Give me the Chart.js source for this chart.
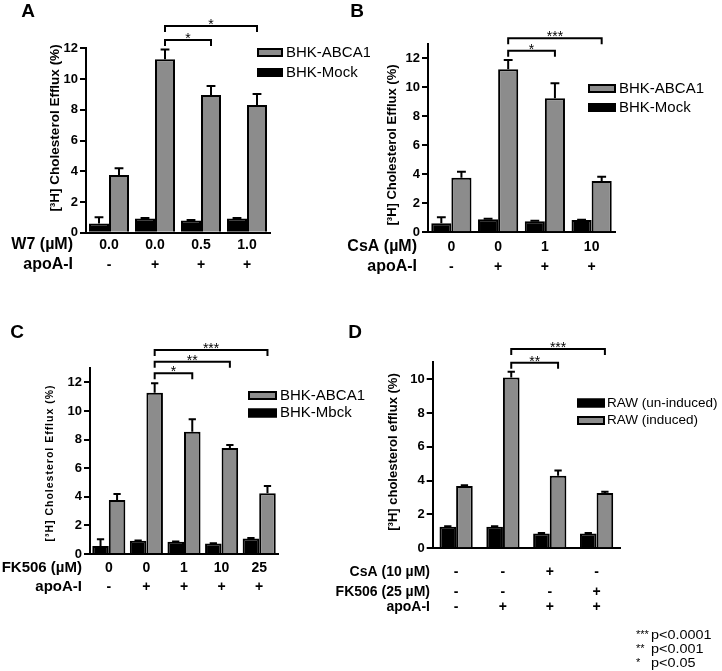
<!DOCTYPE html>
<html>
<head>
<meta charset="utf-8">
<script src="https://cdn.jsdelivr.net/npm/chart.js@4.4.1/dist/chart.umd.min.js"></script>
<style>
  body { margin: 0; background: #fff; }
  canvas { position: absolute; }
</style>
</head>
<body>
<canvas id="panelA"></canvas>
<canvas id="panelB"></canvas>
<canvas id="panelC"></canvas>
<canvas id="panelD"></canvas>
<script>
// ---- data ----
var yTicksA = [0, 2, 4, 6, 8, 10, 12];
var w7Dose = ['0.0', '0.0', '0.5', '1.0'];
var apoA = ['-', '+', '+', '+'];
var mockA = [0.6, 0.92, 0.8, 0.92];
var mockErrA = [0.4, 0.04, 0.02, 0.04];
var abcaA = [3.76, 11.28, 8.96, 8.31];
var abcaErrA = [0.43, 0.64, 0.59, 0.72];
var sigA = ['*', '*'];

var yTicksB = [0, 2, 4, 6, 8, 10, 12];
var csaDose = ['0', '0', '1', '10'];
var apoB = ['-', '+', '+', '+'];
var mockB = [0.62, 0.9, 0.76, 0.84];
var mockErrB = [0.41, 0.04, 0.03, 0.03];
var abcaB = [3.77, 11.24, 9.24, 3.54];
var abcaErrB = [0.41, 0.64, 1.04, 0.29];
var sigB = ['*', '***'];

var yTicksC = [0, 2, 4, 6, 8, 10, 12];
var fkDose = ['0', '0', '1', '10', '25'];
var apoC = ['-', '+', '+', '+', '+'];
var mockC = [0.56, 0.92, 0.86, 0.74, 1.08];
var mockErrC = [0.47, 0.03, 0.02, 0.02, 0.03];
var abcaC = [3.77, 11.27, 8.55, 7.41, 4.24];
var abcaErrC = [0.42, 0.66, 0.86, 0.21, 0.51];
var sigC = ['*', '**', '***'];

var yTicksD = [0, 2, 4, 6, 8, 10];
var csaD = ['-', '-', '+', '-'];
var fkD = ['-', '-', '-', '+'];
var apoD = ['-', '+', '+', '+'];
var rawUn = [1.27, 1.27, 0.88, 0.88];
var rawUnErr = [0.03, 0.03, 0.03, 0.03];
var rawInd = [3.69, 10.1, 4.3, 3.27];
var rawIndErr = [0.04, 0.35, 0.3, 0.08];
var sigD = ['**', '***'];

var pValues = [['***', 'p<0.0001'], ['**', 'p<0.001'], ['*', 'p<0.05']];

var FONT = '"Liberation Sans", Arial, Helvetica, sans-serif';
var GRAY = '#8c8c8c';
var Y_W = 40;

// layout of each panel, page coordinates
var panels = {
  panelA: {
    box: { x: 0, y: 0, w: 370, h: 330 }, area: { l: 86, r: 270, t: 48.3, b: 232.7 },
    letter: ['A', 28, 12],
    title: { text: '[\u00B3H] Cholesterol Efflux (%)', x: 55, y: 128, size: 13.5, spacing: 0 },
    rowHeads: ['W7 (\u00B5M)', 'apoA-I'], rows: [w7Dose, apoA], rowY: [245, 265], headRight: 73, headSize: 16,
    brackets: { from: 1, to: [2, 3], y: [40, 26], text: sigA },
    legend: { x: 257, w: 26, y: [52.5, 72.5], textX: 286, size: 15, order: [1, 0] }
  },
  panelB: {
    box: { x: 330, y: 0, w: 392, h: 330 }, area: { l: 428, r: 615, t: 43.8, b: 232.3 },
    letter: ['B', 357, 12],
    title: { text: '[\u00B3H] Cholesterol Efflux (%)', x: 392.5, y: 145, size: 13, spacing: 0 },
    rowHeads: ['CsA (\u00B5M)', 'apoA-I'], rows: [csaDose, apoB], rowY: [247, 267], headRight: 417, headSize: 16,
    brackets: { from: 1, to: [2, 3], y: [50.7, 38.3], text: sigB },
    legend: { x: 588, w: 28, y: [88.5, 107.5], textX: 619, size: 15, order: [1, 0] }
  },
  panelC: {
    box: { x: 0, y: 310, w: 370, h: 361 }, area: { l: 90, r: 278, t: 368, b: 554 },
    letter: ['C', 17, 333],
    title: { text: '[\u00B3H] Cholesterol Efflux (%)', x: 50, y: 463, size: 10.5, spacing: 1 },
    rowHeads: ['FK506 (\u00B5M)', 'apoA-I'], rows: [fkDose, apoC], rowY: [568, 587], headRight: 82, headSize: 15,
    brackets: { from: 1, to: [2, 3, 4], y: [373.3, 361.7, 350], text: sigC },
    legend: { x: 248, w: 29, y: [395.5, 413], textX: 280, size: 15, order: [1, 0] }
  },
  panelD: {
    box: { x: 330, y: 310, w: 392, h: 361 }, area: { l: 432.7, r: 620, t: 362.4, b: 548.3 },
    letter: ['D', 355, 333],
    title: { text: '[\u00B3H] cholesterol efflux (%)', x: 393, y: 452, size: 13, spacing: 0 },
    rowHeads: ['CsA (10 \u00B5M)', 'FK506 (25 \u00B5M)', 'apoA-I'], rows: [csaD, fkD, apoD],
    rowY: [572, 592, 607], headRight: 430, headSize: 14,
    brackets: { from: 1, to: [2, 3], y: [362.7, 349], text: sigD },
    legend: { x: 577, w: 28, y: [403, 420.5], textX: 607, size: 13.5, order: [0, 1] },
    notes: { x: 636, textX: 651, y: [636, 650, 664], stretch: 1.2 }
  }
};

var errorBars = {
  id: 'errorBars',
  afterDatasetsDraw: function (chart) {
    var ctx = chart.ctx, yScale = chart.scales.y;
    ctx.save();
    ctx.strokeStyle = '#000';
    ctx.lineWidth = 2;
    chart.data.datasets.forEach(function (ds, di) {
      chart.getDatasetMeta(di).data.forEach(function (bar, i) {
        var top = yScale.getPixelForValue(ds.data[i] + ds.errors[i]);
        var cap = bar.width * 0.22;
        ctx.beginPath();
        ctx.moveTo(bar.x, bar.y);
        ctx.lineTo(bar.x, top);
        ctx.moveTo(bar.x - cap, top);
        ctx.lineTo(bar.x + cap, top);
        ctx.stroke();
      });
    });
    ctx.restore();
  }
};

var figureText = {
  id: 'figureText',
  afterDraw: function (chart) {
    var p = panels[chart.canvas.id];
    var ctx = chart.ctx, x = chart.scales.x;
    var i, j;
    ctx.save();
    ctx.translate(-p.box.x, -p.box.y);
    ctx.fillStyle = '#000';
    ctx.strokeStyle = '#000';

    // panel letter
    ctx.font = 'bold 19px ' + FONT;
    ctx.textAlign = 'center';
    ctx.textBaseline = 'middle';
    ctx.fillText(p.letter[0], p.letter[1], p.letter[2]);

    // y title
    ctx.save();
    ctx.translate(p.title.x, p.title.y);
    ctx.rotate(-Math.PI / 2);
    ctx.font = 'bold ' + p.title.size + 'px ' + FONT;
    ctx.letterSpacing = p.title.spacing + 'px';
    ctx.fillText(p.title.text, 0, 0);
    ctx.restore();

    // rows under the x axis
    for (i = 0; i < p.rows.length; i++) {
      ctx.font = 'bold ' + p.headSize + 'px ' + FONT;
      ctx.textAlign = 'right';
      ctx.fillText(p.rowHeads[i], p.headRight, p.rowY[i]);
      ctx.font = 'bold 14px ' + FONT;
      ctx.textAlign = 'center';
      for (j = 0; j < p.rows[i].length; j++) {
        ctx.fillText(p.rows[i][j], x.getPixelForValue(j) + p.box.x, p.rowY[i]);
      }
    }

    // significance brackets between bars of one dataset
    var bars = chart.getDatasetMeta(p.brackets.from).data;
    var x0 = bars[1].x + p.box.x;
    ctx.lineWidth = 2;
    ctx.font = '14px ' + FONT;
    ctx.textBaseline = 'alphabetic';
    p.brackets.to.forEach(function (k, n) {
      var x1 = bars[k].x + p.box.x, y = p.brackets.y[n];
      ctx.beginPath();
      ctx.moveTo(x0, y + 6);
      ctx.lineTo(x0, y);
      ctx.lineTo(x1, y);
      ctx.lineTo(x1, y + 6);
      ctx.stroke();
      ctx.fillText(p.brackets.text[n], (x0 + x1) / 2, y + 3);
    });

    // legend
    ctx.font = p.legend.size + 'px ' + FONT;
    ctx.textAlign = 'left';
    ctx.textBaseline = 'middle';
    p.legend.order.forEach(function (di, n) {
      var ds = chart.data.datasets[di], cy = p.legend.y[n];
      ctx.fillStyle = ds.backgroundColor;
      ctx.fillRect(p.legend.x, cy - 4.5, p.legend.w, 9);
      ctx.lineWidth = 2;
      ctx.strokeRect(p.legend.x + 1, cy - 3.5, p.legend.w - 2, 7);
      ctx.fillStyle = '#000';
      ctx.fillText(ds.label, p.legend.textX, cy);
    });

    // p-value key
    if (p.notes) {
      pValues.forEach(function (pv, n) {
        var y = p.notes.y[n];
        ctx.font = '11px ' + FONT;
        ctx.fillText(pv[0], p.notes.x, y - 1);
        ctx.save();
        ctx.translate(p.notes.textX, y);
        ctx.scale(p.notes.stretch, 1);
        ctx.font = '12px ' + FONT;
        ctx.fillText(pv[1], 0, 0);
        ctx.restore();
      });
    }
    ctx.restore();
  }
};

function makePanel(id, cfg) {
  var p = panels[id], canvas = document.getElementById(id);
  canvas.width = p.box.w;
  canvas.height = p.box.h;
  canvas.style.left = p.box.x + 'px';
  canvas.style.top = p.box.y + 'px';
  canvas.style.width = p.box.w + 'px';
  canvas.style.height = p.box.h + 'px';

  var sets = cfg.series.map(function (s) {
    return {
      label: s.label,
      data: s.data,
      errors: s.err,
      backgroundColor: s.color,
      borderColor: '#000',
      borderWidth: 2,
      categoryPercentage: cfg.catPct,
      barPercentage: 1
    };
  });

  return new Chart(canvas, {
    type: 'bar',
    data: { labels: cfg.labels, datasets: sets },
    plugins: [errorBars, figureText],
    options: {
      responsive: false,
      animation: false,
      layout: {
        padding: {
          left: p.area.l - p.box.x - Y_W,
          right: p.box.x + p.box.w - p.area.r,
          top: p.area.t - p.box.y,
          bottom: p.box.y + p.box.h - p.area.b
        }
      },
      plugins: { legend: { display: false }, tooltip: { enabled: false } },
      scales: {
        x: {
          grid: { display: false, drawTicks: false },
          ticks: { display: false },
          border: { color: '#000', width: 2 },
          afterFit: function (s) { s.height = 0; }
        },
        y: {
          min: 0,
          max: cfg.yMax,
          afterBuildTicks: function (s) {
            s.ticks = cfg.yTicks.map(function (v) { return { value: v }; });
          },
          grid: { display: true, drawOnChartArea: false, drawTicks: true, tickLength: 6, color: '#000', lineWidth: 2 },
          border: { color: '#000', width: 2 },
          ticks: { color: '#000', padding: 2, font: { family: FONT, size: 13, weight: 'bold' } },
          afterFit: function (s) { s.width = Y_W; }
        }
      }
    }
  });
}

makePanel('panelA', {
  labels: w7Dose, yMax: 12, yTicks: yTicksA, catPct: 0.87,
  series: [
    { label: 'BHK-Mock', data: mockA, err: mockErrA, color: '#000' },
    { label: 'BHK-ABCA1', data: abcaA, err: abcaErrA, color: GRAY }
  ]
});
makePanel('panelB', {
  labels: csaDose, yMax: 13, yTicks: yTicksB, catPct: 0.86,
  series: [
    { label: 'BHK-Mock', data: mockB, err: mockErrB, color: '#000' },
    { label: 'BHK-ABCA1', data: abcaB, err: abcaErrB, color: GRAY }
  ]
});
makePanel('panelC', {
  labels: fkDose, yMax: 13, yTicks: yTicksC, catPct: 0.88,
  series: [
    { label: 'BHK-Mbck', data: mockC, err: mockErrC, color: '#000' },
    { label: 'BHK-ABCA1', data: abcaC, err: abcaErrC, color: GRAY }
  ]
});
makePanel('panelD', {
  labels: apoD, yMax: 11, yTicks: yTicksD, catPct: 0.71,
  series: [
    { label: 'RAW (un-induced)', data: rawUn, err: rawUnErr, color: '#000' },
    { label: 'RAW (induced)', data: rawInd, err: rawIndErr, color: GRAY }
  ]
});
</script>
</body>
</html>
